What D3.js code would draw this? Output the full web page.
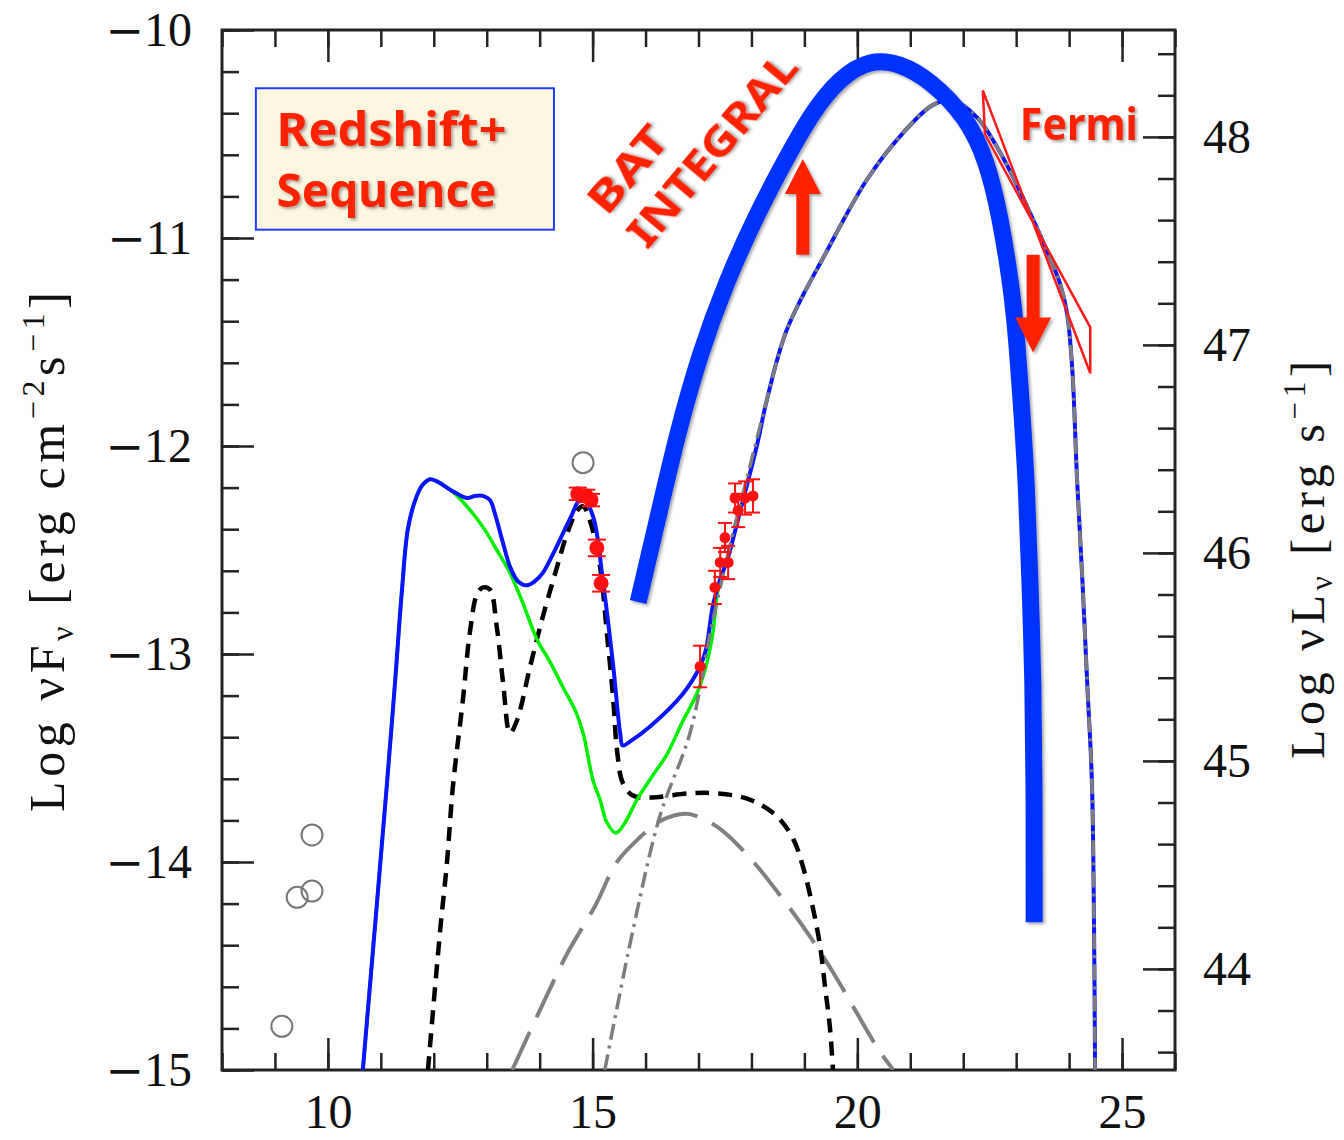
<!DOCTYPE html>
<html>
<head>
<meta charset="utf-8">
<script src="https://cdn.jsdelivr.net/npm/d3@7"></script>
<style>
  body { margin: 0; background: #fff; }
  .tick line { stroke: #222; stroke-width: 2.5; }
  .axis text { font-family: "Liberation Serif", serif; font-size: 48px; fill: #111; }
  .label { font-family: "Liberation Serif", serif; fill: #111; }
  .note { font-family: "Noto Sans", sans-serif; font-weight: 700; fill: #ff2200; }
</style>
</head>
<body>
<svg id="chart"></svg>
<script>
// model curves, [log nu (Hz), log nuFnu]
var totalSED = [[10.66,-15],[11.12,-13.61],[11.27,-13.13],[11.40,-12.69],[11.51,-12.40],[11.65,-12.26],
  [11.78,-12.19],[11.93,-12.16],[12.06,-12.17],[12.31,-12.21],[12.63,-12.25],[12.78,-12.24],[12.93,-12.24],
  [13.06,-12.26],[13.16,-12.33],[13.29,-12.45],[13.44,-12.58],[13.59,-12.65],[13.76,-12.67],[13.91,-12.65],
  [14.06,-12.61],[14.25,-12.52],[14.44,-12.42],[14.61,-12.33],[14.72,-12.27],[14.82,-12.25],[15.01,-12.34],
  [15.20,-12.66],[15.39,-13.06],[15.52,-13.38],[15.57,-13.44],[15.71,-13.42],[16.08,-13.35],[16.71,-13.19],
  [17.03,-13.06],[17.14,-12.98],[17.27,-12.77],[17.41,-12.64],[17.54,-12.55],[17.78,-12.32],[18.11,-11.99],
  [18.29,-11.78],[18.67,-11.44],[19.43,-11.06],[20.18,-10.72],[20.81,-10.51],[21.43,-10.36],[21.81,-10.34],
  [22.26,-10.42],[22.70,-10.59],[23.21,-10.85],[23.51,-11.02],[23.83,-11.22],[23.96,-11.36],[24.06,-11.63],
  [24.15,-12.16],[24.25,-12.64],[24.34,-13.13],[24.43,-13.61],[24.47,-14.29],[24.49,-15]];

var synchroSED = [[10.66,-15],[11.12,-13.61],[11.27,-13.13],[11.40,-12.69],[11.51,-12.40],[11.65,-12.26],
  [11.78,-12.19],[11.93,-12.16],[12.06,-12.17],[12.31,-12.21],[12.59,-12.28],[12.93,-12.39],[13.19,-12.50],
  [13.44,-12.61],[13.69,-12.76],[13.95,-12.93],[14.20,-13.04],[14.44,-13.16],[14.67,-13.27],[14.82,-13.38],
  [15.01,-13.61],[15.14,-13.70],[15.27,-13.81],[15.44,-13.86],[15.59,-13.82],[15.84,-13.70],[16.12,-13.59],
  [16.41,-13.48],[16.69,-13.33],[16.97,-13.19],[17.12,-13.08],[17.27,-12.90],[17.35,-12.72],[17.41,-12.64]];

var thermalSED = [[11.89,-15],[12.12,-14.33],[12.25,-14.00],[12.36,-13.64],[12.55,-13.22],[12.68,-12.90],
  [12.82,-12.71],[12.93,-12.68],[13.06,-12.69],[13.19,-12.87],[13.31,-13.14],[13.44,-13.38],[13.57,-13.32],
  [13.82,-13.06],[14.06,-12.82],[14.33,-12.58],[14.52,-12.42],[14.71,-12.31],[14.82,-12.29],[14.95,-12.36],
  [15.14,-12.58],[15.27,-12.90],[15.39,-13.22],[15.46,-13.46],[15.57,-13.62],[15.76,-13.68],[16.08,-13.69],
  [16.84,-13.67],[17.35,-13.67],[17.97,-13.70],[18.48,-13.78],[18.79,-13.89],[18.97,-14.02],[19.16,-14.22],
  [19.30,-14.41],[19.39,-14.60],[19.48,-14.79],[19.54,-15]];

var sscSED = [[13.48,-15],[14.01,-14.71],[14.52,-14.44],[15.05,-14.21],[15.46,-14.00],[15.90,-13.88],
  [16.22,-13.81],[16.65,-13.77],[16.84,-13.77],[17.35,-13.83],[17.97,-13.98],[18.60,-14.18],[19.11,-14.36],
  [19.54,-14.53],[20.00,-14.73],[20.37,-14.89],[20.68,-15]];

var ecSED = [[15.23,-15],[15.76,-14.33],[16.27,-13.78],[16.84,-13.38],[17.22,-12.90],[17.41,-12.68],
  [17.65,-12.42],[17.97,-12.10],[18.29,-11.78],[18.67,-11.44],[19.43,-11.06],[20.18,-10.72],[20.81,-10.51],
  [21.43,-10.36],[21.81,-10.34],[22.26,-10.42],[22.70,-10.59],[23.21,-10.85],[23.51,-11.02],[23.83,-11.22],
  [23.96,-11.36],[24.06,-11.63],[24.15,-12.16],[24.25,-12.64],[24.34,-13.13],[24.43,-13.61],[24.47,-14.29],
  [24.49,-15]];

var batIntegral = [[15.86,-12.75],[16.22,-12.36],[16.59,-11.95],[17.03,-11.55],[17.54,-11.20],[18.11,-10.88],
  [18.67,-10.61],[19.16,-10.39],[19.67,-10.23],[20.24,-10.14],[20.81,-10.16],[21.37,-10.24],[22.07,-10.42],
  [22.45,-10.63],[22.70,-10.90],[22.89,-11.20],[23.00,-11.44],[23.13,-11.92],[23.19,-12.16],[23.26,-12.64],
  [23.32,-13.13],[23.34,-13.61],[23.34,-14.29]];

// data points [log nu, log nuFnu, error]
var opticalData = [[14.72,-12.23,0.03],[14.88,-12.24,0.03],[14.97,-12.26,0.03],[15.08,-12.49,0.04],[15.16,-12.66,0.04]];
var xrayData = [[17.03,-13.06,0.10],[17.31,-12.68,0.08],[17.41,-12.56,0.07],[17.50,-12.44,0.07],[17.56,-12.56,0.08],
  [17.69,-12.25,0.07],[17.75,-12.31,0.08],[17.88,-12.25,0.08],[18.03,-12.24,0.08]];
var archival = [[9.70,-13.87],[9.42,-14.17],[9.70,-14.14],[9.13,-14.79],[14.82,-12.08]];
var fermiBowtie = [[22.37,-10.29],[24.40,-11.65],[24.40,-11.43],[22.41,-10.50]];
var arrows = [[18.97,-11.08,-10.62],[23.32,-11.08,-11.55]];

var xTicks = [10, 15, 20, 25];
var yTicks = [-10, -11, -12, -13, -14, -15];
var yRightTicks = [44, 45, 46, 47, 48];
var lumOffset = 58.514; // log nuL = log nuF + offset

var W = 1344, H = 1140;
var margin = {top: 30, left: 222, right: 169, bottom: 70};
var width = W - margin.left - margin.right;
var height = H - margin.top - margin.bottom;

var svg = d3.select("#chart").attr("width", W).attr("height", H);
svg.append("rect").attr("width", W).attr("height", H).attr("fill", "#fff");

var defs = svg.append("defs");
var f = defs.append("filter").attr("id", "shadow").attr("x", "-20%").attr("y", "-20%").attr("width", "140%").attr("height", "140%");
f.append("feDropShadow").attr("dx", 2).attr("dy", 2).attr("stdDeviation", 1.5)
  .attr("flood-color", "#000").attr("flood-opacity", 0.35);
defs.append("clipPath").attr("id", "plot").append("rect").attr("width", width).attr("height", height);

var x = d3.scaleLinear().domain([8, 26]).range([0, width]);
var y = d3.scaleLinear().domain([-15, -10]).range([height, 0]);
var yR = d3.scaleLinear().domain([-15 + lumOffset, -10 + lumOffset]).range([height, 0]);

var g = svg.append("g").attr("transform", "translate(" + margin.left + "," + margin.top + ")");

// axes
var minorX = d3.range(8, 26.01, 1);
var minorY = d3.range(-15, -9.99, 0.2);
var minorYR = d3.range(43.6, 48.52, 0.2);

function axisStyle(sel){ sel.attr("class", "axis").select(".domain").remove(); }

g.append("g").call(d3.axisLeft(y).tickValues(minorY).tickSize(-17).tickFormat("")).call(axisStyle);
var yAxisG = g.append("g").call(d3.axisLeft(y).tickValues(yTicks).tickSize(-32).tickPadding(30)).call(axisStyle);
// wide minus sign like the TeX original
yAxisG.selectAll("text").each(function(d){
  var t = d3.select(this).text("");
  t.append("tspan").attr("font-family", "DejaVu Sans").attr("font-size", 46).text("\u2212");
  t.append("tspan").text(Math.abs(d));
});
g.append("g").attr("transform", "translate(0," + height + ")")
  .call(d3.axisBottom(x).tickValues(minorX).tickSize(-17).tickFormat("")).call(axisStyle);
g.append("g").attr("transform", "translate(0," + height + ")")
  .call(d3.axisBottom(x).tickValues(xTicks).tickSize(-32).tickPadding(24)).call(axisStyle);
g.append("g").call(d3.axisTop(x).tickValues(minorX).tickSize(-17).tickFormat("")).call(axisStyle);
g.append("g").call(d3.axisTop(x).tickValues(xTicks).tickSize(-32).tickFormat("")).call(axisStyle);
g.append("g").attr("transform", "translate(" + width + ",0)")
  .call(d3.axisRight(yR).tickValues(minorYR).tickSize(-17).tickFormat("")).call(axisStyle);
g.append("g").attr("transform", "translate(" + width + ",0)")
  .call(d3.axisRight(yR).tickValues(yRightTicks).tickSize(-32).tickPadding(28).tickFormat(d3.format("d"))).call(axisStyle);

g.append("rect").attr("width", width).attr("height", height)
  .attr("fill", "none").attr("stroke", "#222").attr("stroke-width", 3);

// axis titles
var lt = svg.append("text").attr("class", "label")
  .attr("transform", "translate(64,552) rotate(-90)")
  .attr("text-anchor", "middle").attr("font-size", 50)
  .attr("textLength", 520).attr("lengthAdjust", "spacing");
lt.append("tspan").text("Log \u03bdF");
lt.append("tspan").attr("font-size", 32).attr("dy", 9).text("\u03bd");
lt.append("tspan").attr("dy", -9).text("  [erg cm");
lt.append("tspan").attr("font-size", 32).attr("dy", -20).text("\u22122");
lt.append("tspan").attr("dy", 20).text("s");
lt.append("tspan").attr("font-size", 32).attr("dy", -20).text("\u22121");
lt.append("tspan").attr("dy", 20).text("]");

var rt = svg.append("text").attr("class", "label")
  .attr("transform", "translate(1324,560) rotate(-90)")
  .attr("text-anchor", "middle").attr("font-size", 48)
  .attr("textLength", 398).attr("lengthAdjust", "spacing");
rt.append("tspan").text("Log \u03bdL");
rt.append("tspan").attr("font-size", 31).attr("dy", 8).text("\u03bd");
rt.append("tspan").attr("dy", -8).text("  [erg s");
rt.append("tspan").attr("font-size", 31).attr("dy", -19).text("\u22121");
rt.append("tspan").attr("dy", 19).text("]");

// curves
var plot = g.append("g").attr("clip-path", "url(#plot)");
var line = d3.line().x(function(d){ return x(d[0]); }).y(function(d){ return y(d[1]); })
  .curve(d3.curveCatmullRom.alpha(0.5));
var smooth = d3.line().x(function(d){ return x(d[0]); }).y(function(d){ return y(d[1]); })
  .curve(d3.curveBasis);

plot.append("path").attr("d", line(sscSED)).attr("fill", "none")
  .attr("stroke", "#808080").attr("stroke-width", 4).attr("stroke-dasharray", "42,16");
plot.append("path").attr("d", line(thermalSED)).attr("fill", "none")
  .attr("stroke", "#000").attr("stroke-width", 4.5).attr("stroke-dasharray", "14,9");
plot.append("path").attr("d", line(synchroSED)).attr("fill", "none")
  .attr("stroke", "#00ee00").attr("stroke-width", 3.5);
plot.append("path").attr("d", line(totalSED)).attr("fill", "none")
  .attr("stroke", "#0a14ff").attr("stroke-width", 4);
plot.append("path").attr("d", line(ecSED)).attr("fill", "none")
  .attr("stroke", "#7d7d7d").attr("stroke-width", 3.5).attr("stroke-dasharray", "16,6,3,6");
plot.append("path").attr("d", smooth(batIntegral)).attr("fill", "none")
  .attr("stroke", "#0433ff").attr("stroke-width", 17).attr("filter", "url(#shadow)");

// archival points
plot.selectAll(".arch").data(archival).enter().append("circle")
  .attr("cx", function(d){ return x(d[0]); }).attr("cy", function(d){ return y(d[1]); })
  .attr("r", 10.5).attr("fill", "none").attr("stroke", "#777").attr("stroke-width", 2);

// measured points with errors
function drawPoints(data, r, cap){
  var pg = plot.append("g").selectAll("g").data(data).enter().append("g");
  pg.append("line")
    .attr("x1", function(d){ return x(d[0]); }).attr("x2", function(d){ return x(d[0]); })
    .attr("y1", function(d){ return y(d[1] - d[2]); }).attr("y2", function(d){ return y(d[1] + d[2]); })
    .attr("stroke", "#ff1010").attr("stroke-width", 2);
  [1, -1].forEach(function(s){
    pg.append("line")
      .attr("x1", function(d){ return x(d[0]) - cap; }).attr("x2", function(d){ return x(d[0]) + cap; })
      .attr("y1", function(d){ return y(d[1] + s * d[2]); }).attr("y2", function(d){ return y(d[1] + s * d[2]); })
      .attr("stroke", "#ff1010").attr("stroke-width", 2);
  });
  pg.append("circle").attr("cx", function(d){ return x(d[0]); }).attr("cy", function(d){ return y(d[1]); })
    .attr("r", r).attr("fill", "#ff1010");
}
drawPoints(opticalData, 7.5, 9);
drawPoints(xrayData, 5.5, 7);

// Fermi bow-tie
plot.append("path")
  .attr("d", "M" + fermiBowtie.map(function(d){ return x(d[0]) + "," + y(d[1]); }).join("L") + "Z")
  .attr("fill", "none").attr("stroke", "#ff1a1a").attr("stroke-width", 2.5);

// arrows
arrows.forEach(function(a){
  var ax = x(a[0]), y0 = y(a[1]), y1 = y(a[2]);
  var dir = y1 < y0 ? -1 : 1, head = 35, sw = 6.5, hw = 18;
  var yb = y1 - dir * head;
  var p = "M" + (ax - sw) + "," + y0 + "L" + (ax - sw) + "," + yb + "L" + (ax - hw) + "," + yb +
    "L" + ax + "," + y1 + "L" + (ax + hw) + "," + yb + "L" + (ax + sw) + "," + yb + "L" + (ax + sw) + "," + y0 + "Z";
  g.append("path").attr("d", p).attr("fill", "#ff2200").attr("filter", "url(#shadow)");
});

// annotations
g.append("rect").attr("x", x(8.64)).attr("y", y(-10.28))
  .attr("width", x(14.27) - x(8.64)).attr("height", y(-10.96) - y(-10.28))
  .attr("fill", "#fdf6e1").attr("stroke", "#1f3dff").attr("stroke-width", 2);
g.append("text").attr("class", "note").attr("x", x(9.03)).attr("y", y(-10.56))
  .attr("font-size", 46).attr("textLength", 230).attr("lengthAdjust", "spacingAndGlyphs")
  .attr("filter", "url(#shadow)").text("Redshift+");
g.append("text").attr("class", "note").attr("x", x(9.03)).attr("y", y(-10.85))
  .attr("font-size", 46).attr("textLength", 220).attr("lengthAdjust", "spacingAndGlyphs")
  .attr("filter", "url(#shadow)").text("Sequence");

g.append("text").attr("class", "note")
  .attr("transform", "translate(" + x(15.27) + "," + y(-10.90) + ") rotate(-50)")
  .attr("font-size", 42).attr("textLength", 100).attr("lengthAdjust", "spacingAndGlyphs")
  .attr("filter", "url(#shadow)").text("BAT");
g.append("text").attr("class", "note")
  .attr("transform", "translate(" + x(16.03) + "," + y(-11.06) + ") rotate(-50)")
  .attr("font-size", 42).attr("textLength", 238).attr("lengthAdjust", "spacingAndGlyphs")
  .attr("filter", "url(#shadow)").text("INTEGRAL");
g.append("text").attr("class", "note").attr("x", x(23.07)).attr("y", y(-10.53))
  .attr("font-size", 44).attr("textLength", 118).attr("lengthAdjust", "spacingAndGlyphs")
  .attr("filter", "url(#shadow)").text("Fermi");
</script>
</body>
</html>
